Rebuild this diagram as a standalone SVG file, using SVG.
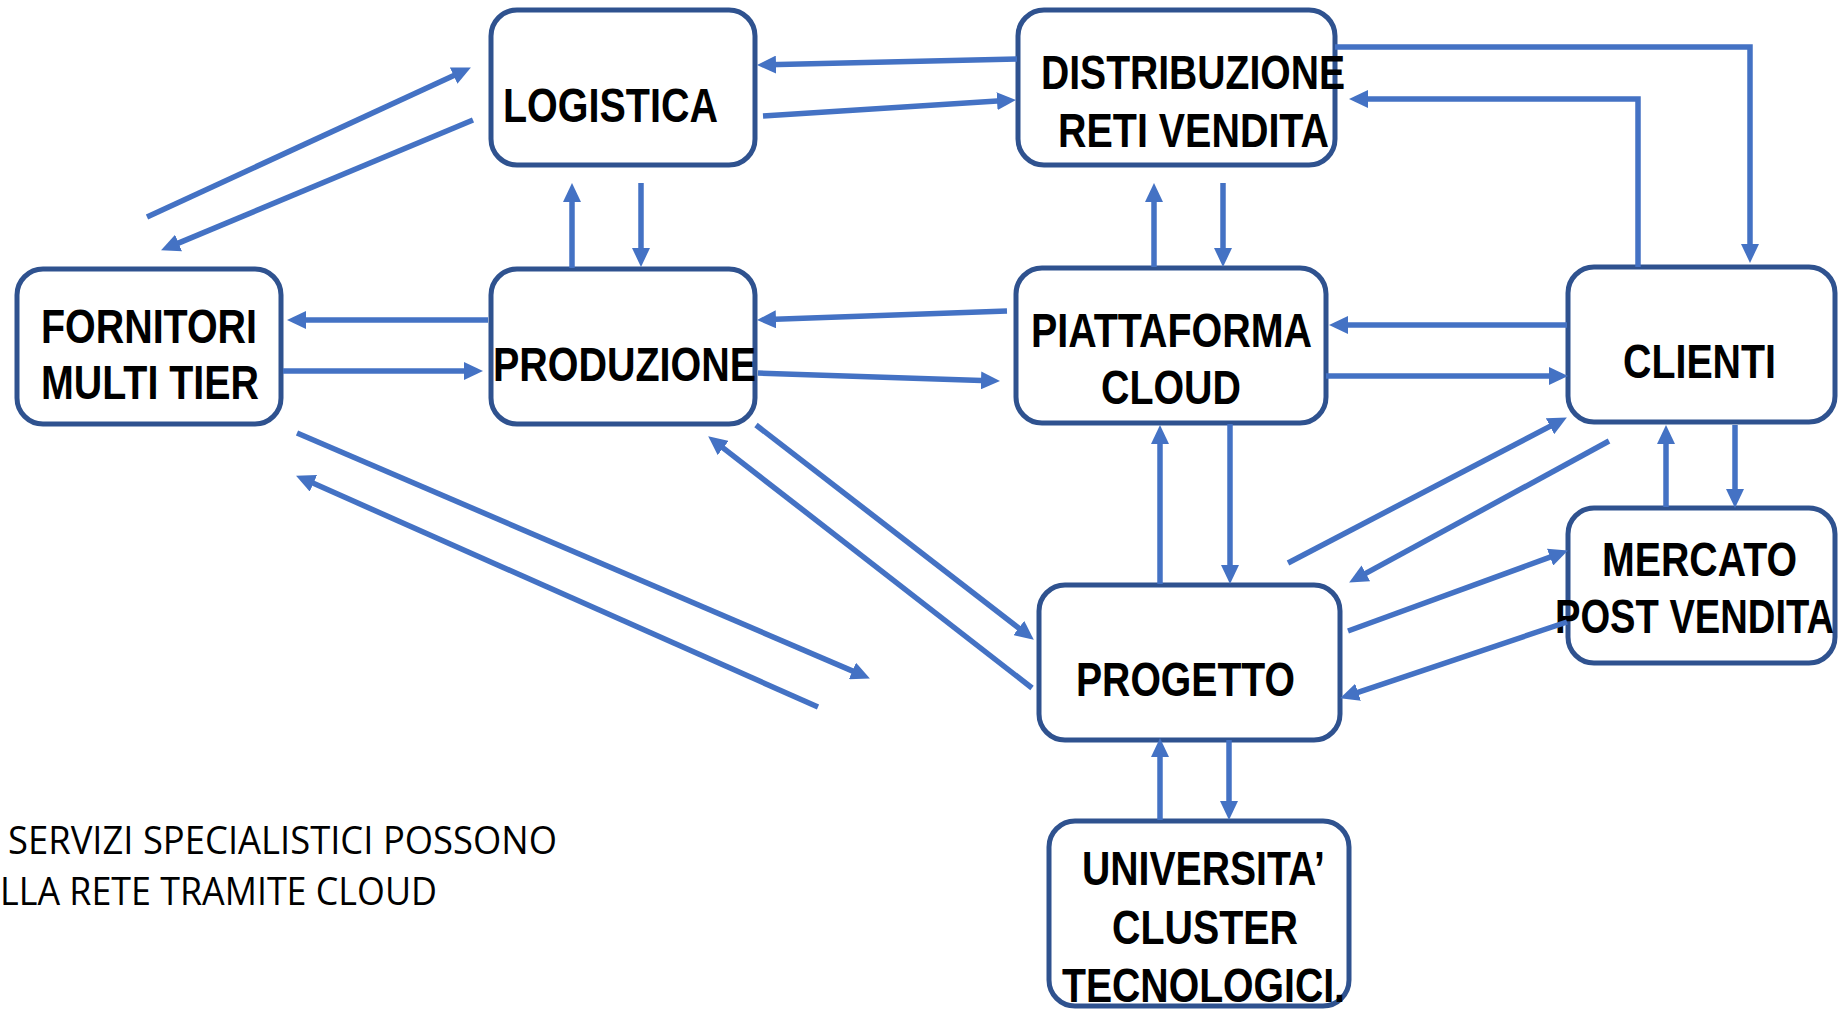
<svg xmlns="http://www.w3.org/2000/svg" width="1839" height="1009" viewBox="0 0 1839 1009">
<defs>
<style>
.box{fill:#ffffff;stroke:#2F528F;stroke-width:5}
.lbl{font-family:"Liberation Sans Narrow","Liberation Sans",Arial,sans-serif;font-weight:bold;font-size:48px;fill:#000000}
.note{font-family:"Open Sans","Noto Sans",sans-serif;font-size:38px;fill:#000000}
.c{fill:none;stroke:#4472C4;stroke-width:5.5;marker-end:url(#ah)}
</style>
<marker id="ah" markerUnits="userSpaceOnUse" markerWidth="19" markerHeight="18" refX="8" refY="9" orient="auto">
<path d="M0,0 L19,9 L0,18 Z" fill="#4472C4"/>
</marker>
</defs>
<rect width="1839" height="1009" fill="#ffffff"/>

<g id="logistica">
<rect class="box" x="491" y="10" width="264" height="155" rx="26"/>
<text class="lbl" x="503" y="122" textLength="215" lengthAdjust="spacingAndGlyphs">LOGISTICA</text>
</g>
<g id="fornitori">
<rect class="box" x="17" y="269" width="264" height="155" rx="26"/>
<text class="lbl" x="41" y="343" textLength="216" lengthAdjust="spacingAndGlyphs">FORNITORI</text>
<text class="lbl" x="41" y="399" textLength="218" lengthAdjust="spacingAndGlyphs">MULTI TIER</text>
</g>
<g id="produzione">
<rect class="box" x="491" y="269" width="264" height="155" rx="26"/>
<text class="lbl" x="493" y="381" textLength="263" lengthAdjust="spacingAndGlyphs">PRODUZIONE</text>
</g>
<g id="distribuzione">
<rect class="box" x="1018" y="10" width="317" height="155" rx="26"/>
<text class="lbl" x="1041" y="89" textLength="304" lengthAdjust="spacingAndGlyphs">DISTRIBUZIONE</text>
<text class="lbl" x="1058" y="147" textLength="271" lengthAdjust="spacingAndGlyphs">RETI VENDITA</text>
</g>
<g id="piattaforma">
<rect class="box" x="1016" y="268" width="310" height="155" rx="26"/>
<text class="lbl" x="1031" y="347" textLength="281" lengthAdjust="spacingAndGlyphs">PIATTAFORMA</text>
<text class="lbl" x="1101" y="404" textLength="140" lengthAdjust="spacingAndGlyphs">CLOUD</text>
</g>
<g id="clienti">
<rect class="box" x="1568" y="267" width="267" height="155" rx="26"/>
<text class="lbl" x="1623" y="378" textLength="153" lengthAdjust="spacingAndGlyphs">CLIENTI</text>
</g>
<g id="mercato">
<rect class="box" x="1568" y="508" width="267" height="155" rx="26"/>
<text class="lbl" x="1602" y="576" textLength="195" lengthAdjust="spacingAndGlyphs">MERCATO</text>
<text class="lbl" x="1555" y="633" textLength="279" lengthAdjust="spacingAndGlyphs">POST VENDITA</text>
</g>
<g id="progetto">
<rect class="box" x="1039" y="585" width="301" height="155" rx="26"/>
<text class="lbl" x="1076" y="696" textLength="219" lengthAdjust="spacingAndGlyphs">PROGETTO</text>
</g>
<g id="universita">
<rect class="box" x="1049" y="821" width="300" height="185" rx="26"/>
<text class="lbl" x="1082" y="885" textLength="243" lengthAdjust="spacingAndGlyphs">UNIVERSITA’</text>
<text class="lbl" x="1112" y="944" textLength="186" lengthAdjust="spacingAndGlyphs">CLUSTER</text>
<text class="lbl" x="1062" y="1002" textLength="283" lengthAdjust="spacingAndGlyphs">TECNOLOGICI.</text>
</g>

<g id="note">
<text class="note" x="8" y="854" textLength="549" lengthAdjust="spacingAndGlyphs">SERVIZI SPECIALISTICI POSSONO</text>
<text class="note" x="0" y="905" textLength="437" lengthAdjust="spacingAndGlyphs">LLA RETE TRAMITE CLOUD</text>
</g>

<g id="connectors">
<path class="c" d="M147,217 L460.9,72.2"/>
<path class="c" d="M473,120 L171.2,246.1"/>
<path class="c" d="M572,268 L572,194"/>
<path class="c" d="M641,183 L641,256"/>
<path class="c" d="M488,320 L298,320"/>
<path class="c" d="M283,371 L472,371"/>
<path class="c" d="M1017,59 L768,64.8"/>
<path class="c" d="M763,116 L1005,100.6"/>
<path class="c" d="M1335,47 L1750,47 L1750,252"/>
<path class="c" d="M1638,267 L1638,99 L1360,99"/>
<path class="c" d="M1154,267 L1154,194"/>
<path class="c" d="M1223,183 L1223,256"/>
<path class="c" d="M1007,311 L768,319.6"/>
<path class="c" d="M758,373 L989,380.7"/>
<path class="c" d="M1567,325 L1340,325"/>
<path class="c" d="M1326,376 L1557,376"/>
<path class="c" d="M297,433 L859.8,674.1"/>
<path class="c" d="M818,707 L306.1,480.1"/>
<path class="c" d="M756,425 L1025.1,632.9"/>
<path class="c" d="M1032,688 L716.9,443.1"/>
<path class="c" d="M1160,584 L1160,436"/>
<path class="c" d="M1230,424 L1230,573"/>
<path class="c" d="M1288,563 L1557.1,422.6"/>
<path class="c" d="M1609,441 L1358.8,577.2"/>
<path class="c" d="M1666,507 L1666,436"/>
<path class="c" d="M1735,425 L1735,497"/>
<path class="c" d="M1348,631 L1557.6,554.4"/>
<path class="c" d="M1567,622 L1350.5,694.8"/>
<path class="c" d="M1160,820 L1160,749"/>
<path class="c" d="M1229,740 L1229,809"/>
</g>
</svg>
